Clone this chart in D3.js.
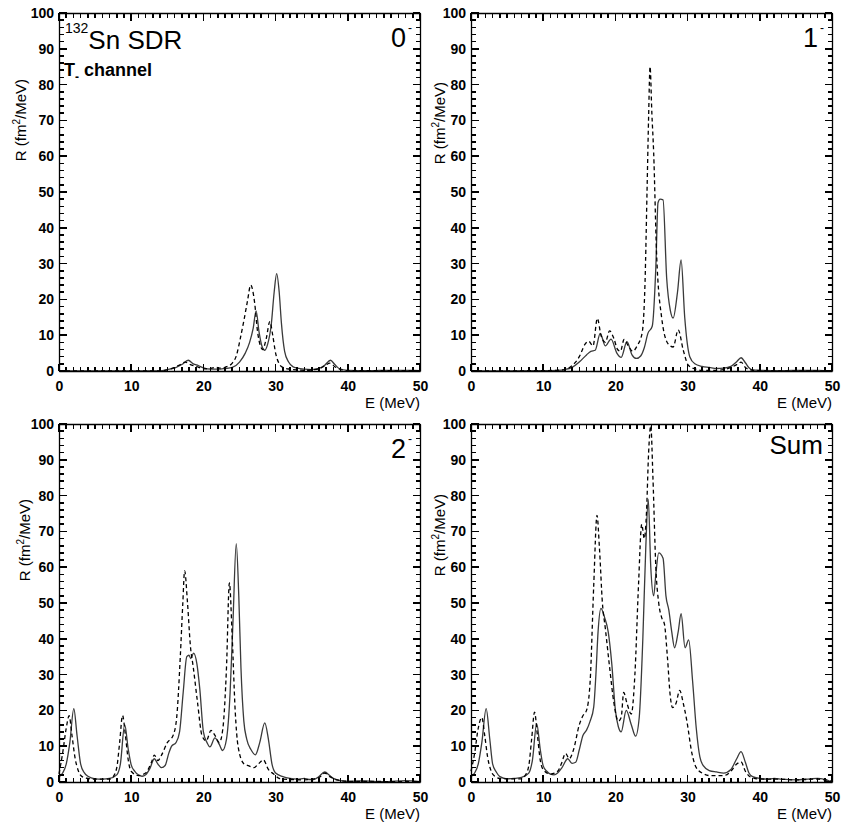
<!DOCTYPE html>
<html>
<head>
<meta charset="utf-8">
<script src="https://d3js.org/d3.v7.min.js"></script>
<style>
  body { margin: 0; background: #fff; }
  text { font-family: "Liberation Sans", Arial, sans-serif; }
  .tick text { font-weight: bold; font-size: 14px; fill: #000; }
  .domain { stroke: #000; stroke-width: 1.3; }
</style>
</head>
<body>
<div id="chart"></div>
<script>
    // tick values
    var xTicks = [0, 10, 20, 30, 40, 50];
    var yTicks = [0, 10, 20, 30, 40, 50, 60, 70, 80, 90, 100];
    var xMinor = d3.range(0, 51, 1),
        yMinor = d3.range(0, 101, 2);

    // panel labels
    var panelNames = ["0", "1", "2", "Sum"];

    // [E (MeV), R (fm^2/MeV)]
    // 0- : solid and dashed
    var solid0 = [[0,0],[14,0.05],[15,0.4],[16,0.8],[17,1.8],[17.9,3.0],[18.6,2.0],[19.3,1.5],[20,0.9],[21,0.5],[22,0.5],[23,0.7],
        [24,1.0],[25,2.5],[25.8,5],[26.4,8],[26.9,12],[27.3,16.8],[27.7,11],[28.1,7],[28.5,5.8],[28.9,7.5],[29.4,13],[29.8,22],
        [30.15,27.2],[30.5,22],[30.8,13.5],[31.25,5.5],[31.8,2.5],[32.4,1.2],[33,0.8],[34,0.5],[35,0.4],[36,0.7],[36.8,1.6],
        [37.6,3.0],[38.2,1.8],[38.8,0.7],[40,0.2],[43,0.1],[46,0.2],[49,0.2],[50,0.1]];
    var dashed0 = [[0,0],[14,0.05],[15,0.3],[16,1.0],[16.8,1.8],[17.5,2.5],[18.2,1.8],[19,1.3],[20,0.6],[21,0.7],[21.7,1.0],[22.5,0.8],
        [23.2,1.2],[24,2.2],[24.6,4.5],[25.1,9],[25.6,14],[26.1,19.5],[26.55,24],[27.1,19],[27.5,11],[27.9,7],[28.2,6],[28.7,9],
        [29.2,13.8],[29.6,10],[30,5],[30.5,2],[31,1],[32,0.5],[33,0.3],[34,0.2],[35,0.3],[36,0.6],[36.8,1.4],[37.5,2.2],
        [38.2,1.2],[39,0.4],[40,0.1],[50,0.1]];

    // 1-
    var solid1 = [[0,0],[10,0.1],[12,0.2],[13,0.4],[14,1.0],[15,2.5],[16,4.5],[16.6,5.5],[17.2,5.8],[17.9,10.5],[18.6,7],[19.4,8.9],
        [20.2,5],[20.8,3.8],[21.6,8.2],[22.3,4.5],[22.9,3.5],[23.5,4.2],[24,6.5],[24.5,10.5],[25.1,12.5],[25.6,29],[25.9,47],
        [26.2,48],[26.6,47.8],[27.1,26],[27.6,17],[28.0,14.8],[28.6,22],[29.1,31],[29.6,15],[30.3,4],[31,2],[32,1.3],[33,1],
        [34,0.7],[35,0.8],[36,1.3],[36.8,2.6],[37.4,3.7],[38,2.3],[38.5,0.9],[39,0.3],[40,0.2],[43,0.1],[46,0.2],[48,0.2],[50,0]];
    var dashed1 = [[0,0],[10,0.1],[12,0.2],[13,0.4],[14,1.5],[15,4],[15.8,7.5],[16.3,8.3],[16.9,7],[17.5,14.7],[18,10],[18.6,8],
        [19.2,11.2],[19.8,9],[20.3,6],[20.7,5.5],[21.2,8.8],[21.8,7],[22.4,5.5],[23,7],[23.7,10.6],[24.1,24.5],[24.4,52],[24.6,71],
        [24.8,85],[25.05,72],[25.3,61],[25.7,33],[26.4,15],[27.3,7.6],[28.0,6.7],[28.7,11.5],[29.4,5.8],[30.1,1.6],[31,0.6],
        [32,0.2],[34,0.2],[35,0.4],[36,1.0],[37,2.0],[37.4,2.5],[38,1.0],[39,0.2],[40,0.1],[50,0]];

    // 2-
    var solid2 = [[0,1.4],[0.5,2.5],[1,5],[1.5,11],[2.05,20.5],[2.5,13],[3,5],[3.5,2.6],[4,1.6],[5,0.9],[6,0.8],[7,1.0],[8,2.0],
        [8.5,5],[9.1,16],[9.6,9],[10,4.8],[10.5,3],[11,2],[11.5,1.6],[12,2],[12.6,3.8],[13.2,6.5],[13.7,5],[14.2,4],[14.7,4.6],
        [15.2,8],[15.6,10],[16.2,11],[16.7,14],[17.2,25],[17.7,35],[18.0,35.4],[18.25,34.5],[18.65,36],[19.1,33],[19.5,26],
        [20,14],[20.5,11],[20.9,9.8],[21.6,12.3],[22.2,10.5],[22.65,8.8],[23.2,12],[23.7,25],[24.1,45],[24.55,66.6],[24.9,52],
        [25.2,32],[25.6,17],[26,12],[26.6,9],[27.2,7.6],[27.8,11],[28.5,16.5],[29,12],[29.5,5],[30,2.5],[31,1.5],[32,1.0],
        [33,0.8],[34,1.0],[34.6,0.7],[35.3,0.7],[36,1.5],[36.8,2.8],[37.5,1.8],[38,1.0],[39,0.4],[40,0.2],[42,0.3],[45,0.1],
        [48,0.4],[50,0.1]];
    var dashed2 = [[0,2.3],[0.5,8],[1.0,15],[1.4,18.5],[1.8,13],[2.2,7],[2.7,3],[3.2,1.5],[4,1.0],[5,0.8],[7,0.8],[7.5,1.5],[8,4],
        [8.4,11],[8.8,18.6],[9.2,13],[9.6,6],[10,3],[11,1.8],[12,2.5],[12.8,5.5],[13.2,7.5],[13.7,6],[14.2,7.5],[15,11],
        [15.8,13],[16.3,18],[16.8,35],[17.15,50],[17.4,59],[17.8,50],[18.2,38],[18.6,32],[19.2,22],[19.8,13],[20.4,11.5],
        [21.05,14.4],[21.6,13],[22.2,11],[22.7,15],[23.2,32],[23.6,55.6],[24.0,40],[24.4,20],[24.8,10],[25.6,5.1],[26.3,4.5],
        [27,4],[27.6,5],[28.3,6.2],[29,3.5],[29.7,2.3],[30.5,1.0],[31,0.8],[34,0.6],[36,1.2],[36.8,2.5],[37.5,1.5],[38.5,0.6],
        [40,0.2],[50,0.1]];

    // Sum
    var solid3 = [[0,1.5],[0.5,2.5],[1,5],[1.5,11],[2.1,20.5],[2.6,12],[3,5],[3.5,2.8],[4,1.5],[5,0.9],[6,1.0],[7,1.3],[8,2.5],
        [8.5,6],[9.1,16.3],[9.6,9],[10,4.5],[10.5,3],[11,2.2],[11.5,2.0],[12,2.5],[12.6,4],[13.4,6.5],[14,5.2],[14.5,5.5],[15,9],
        [15.5,13],[16,14.5],[16.5,17],[17,21],[17.3,30],[17.6,42],[18.0,48.5],[18.5,46],[19.0,42],[19.5,33],[20,20],[20.4,15.5],
        [20.8,14],[21.5,20],[22.2,16],[22.8,12.8],[23.3,18],[23.8,40],[24.2,65],[24.55,79],[24.9,60],[25.3,52],[25.6,58],
        [26.0,64],[26.6,62.5],[27,52],[27.4,48],[27.8,42],[28.2,37.5],[28.7,42],[29.1,47],[29.65,37.5],[30.15,39.7],[30.7,28],
        [31.2,15],[31.7,7],[32.2,4.5],[33,3.2],[34,2.8],[35,2.5],[36,3.5],[36.8,6.5],[37.4,8.5],[38,5.5],[38.5,2.5],[39,1.5],
        [40,1.0],[41,0.8],[42,1.0],[43,0.8],[45,0.6],[47,0.9],[48,1.0],[49,0.7],[50,0]];
    var dashed3 = [[0,3],[0.5,8],[1.0,15],[1.5,18],[1.9,13],[2.3,7],[2.8,3],[3.3,1.6],[4,1.0],[5,0.9],[7,0.9],[7.5,1.8],[8,4.5],
        [8.4,12],[8.8,19.5],[9.2,13],[9.6,6],[10,3.5],[11,2.2],[12,3],[12.5,5],[13.1,8],[13.6,6.5],[14.2,9],[15,16],[15.5,18.5],
        [16,20],[16.5,28],[17,55],[17.45,74.5],[17.8,65],[18.2,50],[18.6,43],[19.2,32],[19.8,22],[20.4,17],[20.8,18],[21.15,25],
        [21.6,22],[22.2,19],[22.7,30],[23.2,55],[23.65,72],[24.0,68],[24.3,75],[24.6,92],[24.9,99.5],[25.2,85],[25.6,60],[26,50],
        [26.4,46],[26.8,44],[27.2,35],[27.6,24],[27.9,20.8],[28.4,22],[28.9,25.6],[29.4,22],[29.9,17],[30.6,8],[31.2,4],
        [32.2,2.3],[33,1.8],[35,1.8],[36,3],[36.8,5],[37.4,5.6],[38,3],[38.7,1.4],[40,0.8],[42,0.8],[45,0.6],[48,0.8],[50,0.2]];

    var solids = [solid0, solid1, solid2, solid3];
    var dashes = [dashed0, dashed1, dashed2, dashed3];

    // layout of the four frames
    var panels = [
        {left: 59, top: 13, labDx: -33, labCy: 107},
        {left: 471, top: 13, labDx: -26, labCy: 110},
        {left: 59, top: 424, labDx: -29, labCy: 116},
        {left: 471, top: 424, labDx: -26, labCy: 111}
    ];
    var W = 361,
        H = 358;

    var svg = d3.select("#chart")
        .append("svg")
        .attr("width", 841)
        .attr("height", 830)
        .style("display", "block");

    var x = d3.scaleLinear().domain([0, 50]).range([0, W]);
    var y = d3.scaleLinear().domain([0, 100]).range([H, 0]);

    var curveGen = d3.line()
        .x(function(d) { return x(d[0]); })
        .y(function(d) { return y(d[1]); })
        .curve(d3.curveMonotoneX);

    // inward tick marks on all four sides, as one path per frame
    function tickPath() {
        var p = d3.path();
        [[xMinor, 4.5], [xTicks, 7.5]].forEach(function(s) {
            s[0].forEach(function(v) {
                p.moveTo(x(v), H); p.lineTo(x(v), H - s[1]);
                p.moveTo(x(v), 0); p.lineTo(x(v), s[1]);
            });
        });
        [[yMinor, 4.5], [yTicks, 7.5]].forEach(function(s) {
            s[0].forEach(function(v) {
                p.moveTo(0, y(v)); p.lineTo(s[1], y(v));
                p.moveTo(W, y(v)); p.lineTo(W - s[1], y(v));
            });
        });
        return p.toString();
    }

    panels.forEach(function(p, i) {
        var g = svg.append("g")
            .attr("transform", "translate(" + p.left + "," + p.top + ")");

        // curves
        g.append("path")
            .datum(solids[i])
            .attr("fill", "none")
            .attr("stroke", "#3a3a3a")
            .attr("stroke-width", 1.3)
            .attr("d", curveGen);
        g.append("path")
            .datum(dashes[i])
            .attr("fill", "none")
            .attr("stroke", "#000")
            .attr("stroke-width", 1.3)
            .attr("stroke-dasharray", "4,3")
            .attr("d", curveGen);

        // frame and tick labels
        g.append("g").attr("transform", "translate(0," + H + ")")
            .call(d3.axisBottom(x).tickValues(xTicks).tickSize(0).tickPadding(10));
        g.append("g")
            .call(d3.axisTop(x).tickValues([]).tickSize(0));
        g.append("g")
            .call(d3.axisLeft(y).tickValues(yTicks).tickSize(0).tickPadding(5));
        g.append("g").attr("transform", "translate(" + W + ",0)")
            .call(d3.axisRight(y).tickValues([]).tickSize(0));

        // tick marks on top of everything in the frame
        g.append("path")
            .attr("d", tickPath())
            .attr("fill", "none")
            .attr("stroke", "#000")
            .attr("stroke-width", 1.6)
            .attr("shape-rendering", "crispEdges");

        // axis titles
        g.append("text")
            .attr("x", W)
            .attr("y", H + 37)
            .attr("text-anchor", "end")
            .style("font-size", "15px")
            .text("E (MeV)");

        var yl = g.append("text")
            .attr("transform", "translate(" + p.labDx + "," + p.labCy + ") rotate(-90)")
            .attr("text-anchor", "middle")
            .style("font-size", "15px");
        yl.append("tspan").text("R (fm");
        yl.append("tspan").attr("dy", -6).style("font-size", "10px").text("2");
        yl.append("tspan").attr("dy", 6).text("/MeV)");

        // panel name
        if (panelNames[i] === "Sum") {
            g.append("text")
                .attr("x", W - 9)
                .attr("y", 30)
                .attr("text-anchor", "end")
                .style("font-size", "26px")
                .text(panelNames[i]);
        } else {
            var t = g.append("text")
                .attr("x", W - 8)
                .attr("y", 34)
                .attr("text-anchor", "end")
                .style("font-size", "27px");
            t.append("tspan").text(panelNames[i]);
            t.append("tspan").attr("dx", 2).attr("dy", -15).style("font-size", "12px").text("-");
        }
    });

    // title in the first frame
    var p0 = panels[0];
    var title = svg.append("text")
        .attr("x", p0.left + 6)
        .attr("y", p0.top + 36);
    title.append("tspan").attr("dy", -16).style("font-size", "14px").text("132");
    title.append("tspan").attr("dy", 16).style("font-size", "26px").text("Sn SDR");

    var chan = svg.append("text")
        .attr("x", p0.left + 5)
        .attr("y", p0.top + 63)
        .style("font-weight", "bold")
        .style("font-size", "18px");
    chan.append("tspan").text("T");
    chan.append("tspan").attr("dy", 5).style("font-size", "12px").text("-");
    chan.append("tspan").attr("dy", -5).text(" channel");
</script>
</body>
</html>
